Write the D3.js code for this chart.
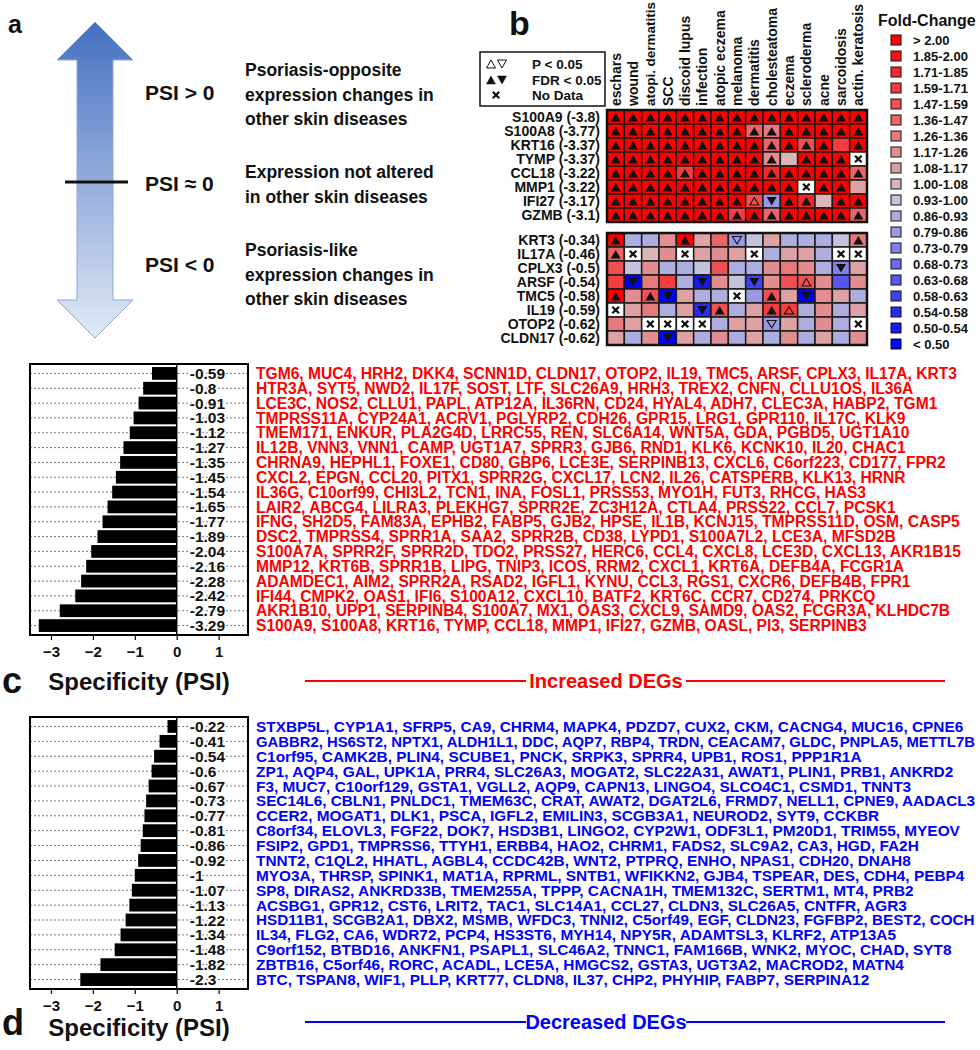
<!DOCTYPE html>
<html><head><meta charset="utf-8">
<script src="https://cdn.jsdelivr.net/npm/d3@7"></script>
<style>
body{margin:0;background:#fff;}
text{font-family:Arial,"Liberation Sans",sans-serif;font-weight:bold;fill:#111;}
</style></head>
<body><svg id="chart" width="980" height="1050"></svg>
<script>
// ---------------- DATA ----------------
const diseases = ["eschars","wound","atopi. dermatitis","SCC","discoid lupus","infection","atopic eczema","melanoma","dermatitis","cholesteatoma","eczema","scleroderma","acne","sarcoidosis","actin. keratosis"];

const upGenes = ["S100A9","S100A8","KRT16","TYMP","CCL18","MMP1","IFI27","GZMB"];
const upPSI = ["-3.8","-3.77","-3.37","-3.37","-3.22","-3.22","-3.17","-3.1"];
const upFC = [
 [2.5,2.5,2.5,2.5,2.5,2.5,2.5,2.5,2.5,2.5,2.5,2.5,2.5,2.5,2.5],
 [2.5,2.5,2.5,2.5,2.5,2.5,2.5,2.5,1.4,1.3,2.5,2.5,2.5,2.5,2.5],
 [2.5,2.5,2.5,2.5,2.5,2.5,2.5,2.5,2.5,1.42,2.5,1.5,2.5,1.65,2.5],
 [2.5,2.5,2.5,2.5,2.5,2.5,2.5,2.5,2.5,1.2,1.05,2.5,2.5,2.5,null],
 [2.5,2.5,2.5,2.5,1.65,2.5,2.5,2.5,2.5,1.75,2.5,2.5,2.5,2.5,1.4],
 [2.5,2.5,2.5,2.5,2.5,2.5,2.5,2.5,2.5,2.5,2.5,null,2.5,2.5,1.12],
 [2.5,2.5,2.5,2.5,2.5,2.5,2.5,2.5,1.5,0.85,2.5,1.75,1.05,2.5,2.5],
 [2.5,2.5,2.5,2.5,2.5,2.5,2.5,1.62,2.5,1.4,2.5,2.5,2.5,2.5,1.4]
];
// F = FDR<0.05 (filled), P = P<0.05 (open), X = no data, . = none
const upMarks = [
 "FFFFFFFFFFFFFFF",
 "FFFFFFFFFFFFFFF",
 "FFFFFFFFFFFFF.F",
 "FFFFFFFFFF.FFFX",
 "FFFFFFFFFFFFFFF",
 "FFFFFFFFFFFXFF.",
 "FFFFFFFFPFFF.FF",
 "FFFFFFFFFFFFFFF"
];

const downGenes = ["KRT3","IL17A","CPLX3","ARSF","TMC5","IL19","OTOP2","CLDN17"];
const downPSI = ["-0.34","-0.46","-0.5","-0.54","-0.58","-0.59","-0.62","-0.62"];
const downFC = [
 [2.5,0.88,0.88,1.2,2.5,1.1,1.45,0.8,0.95,1.1,0.9,0.9,0.9,0.95,1.3],
 [1.4,null,1.06,1.2,null,1.1,1.2,1.1,null,0.9,1.1,1.15,0.9,null,null],
 [1.55,0.95,1.2,0.88,0.9,0.95,1.5,0.9,0.88,1.2,1.3,1.2,0.9,0.75,1.1],
 [1.65,0.45,1.3,1.65,0.88,0.52,1.2,0.95,0.6,1.2,1.5,1.5,1.2,0.68,1.25],
 [2.5,1.2,1.55,0.45,1.1,0.88,0.9,null,0.82,1.5,1.1,0.45,1.2,1.1,0.9],
 [null,1.15,1.3,0.9,1.1,0.55,1.5,0.9,1.1,1.7,1.6,0.9,1.2,0.9,1.1],
 [1.3,1.1,null,null,null,null,0.9,1.1,1.1,0.85,1.1,0.9,1.2,0.9,null],
 [1.1,0.9,1.2,0.45,1.1,0.9,1.2,0.9,1.1,0.9,1.2,0.9,1.1,0.9,1.2]
];
const downMarks = [
 "F...F..P......F",
 "FX..X...X....XX",
 ".............F.",
 ".F...F..F..P...",
 "F.FF...X.F.F...",
 "X....FF..FP....",
 "..XXXX...P....X",
 "...F..........."
];

const fcBreaks = [2.00,1.85,1.71,1.59,1.47,1.36,1.26,1.17,1.08,1.00,0.93,0.86,0.79,0.73,0.68,0.63,0.58,0.54,0.50];
const fcLabels = ["> 2.00","1.85-2.00","1.71-1.85","1.59-1.71","1.47-1.59","1.36-1.47","1.26-1.36","1.17-1.26","1.08-1.17","1.00-1.08","0.93-1.00","0.86-0.93","0.79-0.86","0.73-0.79","0.68-0.73","0.63-0.68","0.58-0.63","0.54-0.58","0.50-0.54","< 0.50"];

const incPSI = [-0.59,-0.8,-0.91,-1.03,-1.12,-1.27,-1.35,-1.45,-1.54,-1.65,-1.77,-1.89,-2.04,-2.16,-2.28,-2.42,-2.79,-3.29];
const incLabels = ["-0.59","-0.8","-0.91","-1.03","-1.12","-1.27","-1.35","-1.45","-1.54","-1.65","-1.77","-1.89","-2.04","-2.16","-2.28","-2.42","-2.79","-3.29"];
const incGenes = [
"TGM6, MUC4, HRH2, DKK4, SCNN1D, CLDN17, OTOP2, IL19, TMC5, ARSF, CPLX3, IL17A, KRT3",
"HTR3A, SYT5, NWD2, IL17F, SOST, LTF, SLC26A9, HRH3, TREX2, CNFN, CLLU1OS, IL36A",
"LCE3C, NOS2, CLLU1, PAPL, ATP12A, IL36RN, CD24, HYAL4, ADH7, CLEC3A, HABP2, TGM1",
"TMPRSS11A, CYP24A1, ACRV1, PGLYRP2, CDH26, GPR15, LRG1, GPR110, IL17C, KLK9",
"TMEM171, ENKUR, PLA2G4D, LRRC55, REN, SLC6A14, WNT5A, GDA, PGBD5, UGT1A10",
"IL12B, VNN3, VNN1, CAMP, UGT1A7, SPRR3, GJB6, RND1, KLK6, KCNK10, IL20, CHAC1",
"CHRNA9, HEPHL1, FOXE1, CD80, GBP6, LCE3E, SERPINB13, CXCL6, C6orf223, CD177, FPR2",
"CXCL2, EPGN, CCL20, PITX1, SPRR2G, CXCL17, LCN2, IL26, CATSPERB, KLK13, HRNR",
"IL36G, C10orf99, CHI3L2, TCN1, INA, FOSL1, PRSS53, MYO1H, FUT3, RHCG, HAS3",
"LAIR2, ABCG4, LILRA3, PLEKHG7, SPRR2E, ZC3H12A, CTLA4, PRSS22, CCL7, PCSK1",
"IFNG, SH2D5, FAM83A, EPHB2, FABP5, GJB2, HPSE, IL1B, KCNJ15, TMPRSS11D, OSM, CASP5",
"DSC2, TMPRSS4, SPRR1A, SAA2, SPRR2B, CD38, LYPD1, S100A7L2, LCE3A, MFSD2B",
"S100A7A, SPRR2F, SPRR2D, TDO2, PRSS27, HERC6, CCL4, CXCL8, LCE3D, CXCL13, AKR1B15",
"MMP12, KRT6B, SPRR1B, LIPG, TNIP3, ICOS, RRM2, CXCL1, KRT6A, DEFB4A, FCGR1A",
"ADAMDEC1, AIM2, SPRR2A, RSAD2, IGFL1, KYNU, CCL3, RGS1, CXCR6, DEFB4B, FPR1",
"IFI44, CMPK2, OAS1, IFI6, S100A12, CXCL10, BATF2, KRT6C, CCR7, CD274, PRKCQ",
"AKR1B10, UPP1, SERPINB4, S100A7, MX1, OAS3, CXCL9, SAMD9, OAS2, FCGR3A, KLHDC7B",
"S100A9, S100A8, KRT16, TYMP, CCL18, MMP1, IFI27, GZMB, OASL, PI3, SERPINB3"
];

const decPSI = [-0.22,-0.41,-0.54,-0.6,-0.67,-0.73,-0.77,-0.81,-0.86,-0.92,-1,-1.07,-1.13,-1.22,-1.34,-1.48,-1.82,-2.3];
const decLabels = ["-0.22","-0.41","-0.54","-0.6","-0.67","-0.73","-0.77","-0.81","-0.86","-0.92","-1","-1.07","-1.13","-1.22","-1.34","-1.48","-1.82","-2.3"];
const decGenes = [
"STXBP5L, CYP1A1, SFRP5, CA9, CHRM4, MAPK4, PDZD7, CUX2, CKM, CACNG4, MUC16, CPNE6",
"GABBR2, HS6ST2, NPTX1, ALDH1L1, DDC, AQP7, RBP4, TRDN, CEACAM7, GLDC, PNPLA5, METTL7B",
"C1orf95, CAMK2B, PLIN4, SCUBE1, PNCK, SRPK3, SPRR4, UPB1, ROS1, PPP1R1A",
"ZP1, AQP4, GAL, UPK1A, PRR4, SLC26A3, MOGAT2, SLC22A31, AWAT1, PLIN1, PRB1, ANKRD2",
"F3, MUC7, C10orf129, GSTA1, VGLL2, AQP9, CAPN13, LINGO4, SLCO4C1, CSMD1, TNNT3",
"SEC14L6, CBLN1, PNLDC1, TMEM63C, CRAT, AWAT2, DGAT2L6, FRMD7, NELL1, CPNE9, AADACL3",
"CCER2, MOGAT1, DLK1, PSCA, IGFL2, EMILIN3, SCGB3A1, NEUROD2, SYT9, CCKBR",
"C8orf34, ELOVL3, FGF22, DOK7, HSD3B1, LINGO2, CYP2W1, ODF3L1, PM20D1, TRIM55, MYEOV",
"FSIP2, GPD1, TMPRSS6, TTYH1, ERBB4, HAO2, CHRM1, FADS2, SLC9A2, CA3, HGD, FA2H",
"TNNT2, C1QL2, HHATL, AGBL4, CCDC42B, WNT2, PTPRQ, ENHO, NPAS1, CDH20, DNAH8",
"MYO3A, THRSP, SPINK1, MAT1A, RPRML, SNTB1, WFIKKN2, GJB4, TSPEAR, DES, CDH4, PEBP4",
"SP8, DIRAS2, ANKRD33B, TMEM255A, TPPP, CACNA1H, TMEM132C, SERTM1, MT4, PRB2",
"ACSBG1, GPR12, CST6, LRIT2, TAC1, SLC14A1, CCL27, CLDN3, SLC26A5, CNTFR, AGR3",
"HSD11B1, SCGB2A1, DBX2, MSMB, WFDC3, TNNI2, C5orf49, EGF, CLDN23, FGFBP2, BEST2, COCH",
"IL34, FLG2, CA6, WDR72, PCP4, HS3ST6, MYH14, NPY5R, ADAMTSL3, KLRF2, ATP13A5",
"C9orf152, BTBD16, ANKFN1, PSAPL1, SLC46A2, TNNC1, FAM166B, WNK2, MYOC, CHAD, SYT8",
"ZBTB16, C5orf46, RORC, ACADL, LCE5A, HMGCS2, GSTA3, UGT3A2, MACROD2, MATN4",
"BTC, TSPAN8, WIF1, PLLP, KRT77, CLDN8, IL37, CHP2, PHYHIP, FABP7, SERPINA12"
];
const psiTicks = [-3,-2,-1,0,1];

// ---------------- DRAWING ----------------
const svg = d3.select("#chart");

// ===== Panel a =====
svg.append("text").attr("x",8).attr("y",33).attr("font-size",25).text("a");
const defs = svg.append("defs");
const grad = defs.append("linearGradient").attr("id","arrowGrad").attr("x1",0).attr("y1",0).attr("x2",0).attr("y2",1);
grad.append("stop").attr("offset","0%").attr("stop-color","#4470c0");
grad.append("stop").attr("offset","50%").attr("stop-color","#93acdb");
grad.append("stop").attr("offset","100%").attr("stop-color","#e2eaf6");
const ax = 95, aTop = 22, aBot = 338, hb1 = 60, hb2 = 300, sw = 18, hw = 38;
const arrowPts = [[ax,aTop],[ax+hw,hb1],[ax+sw,hb1],[ax+sw,hb2],[ax+hw,hb2],[ax,aBot],[ax-hw,hb2],[ax-sw,hb2],[ax-sw,hb1],[ax-hw,hb1]];
svg.append("path").attr("d", d3.line()(arrowPts)+"Z").attr("fill","url(#arrowGrad)").attr("stroke","#8fa8d4").attr("stroke-width",1);
svg.append("line").attr("x1",65).attr("x2",128).attr("y1",182).attr("y2",182).attr("stroke","#111").attr("stroke-width",3);

const psiRows = [
  {lab:"PSI > 0", y:93, lines:["Psoriasis-opposite","expression changes in","other skin diseases"], ly:70},
  {lab:"PSI \u2248 0", y:184, lines:["Expression not altered","in other skin diseases"], ly:172},
  {lab:"PSI < 0", y:265, lines:["Psoriasis-like","expression changes in","other skin diseases"], ly:250}
];
psiRows.forEach(r=>{
  svg.append("text").attr("x",145).attr("y",r.y).attr("dy","0.35em").attr("font-size",21).text(r.lab);
  r.lines.forEach((l,i)=>{
    svg.append("text").attr("x",245).attr("y",r.ly+i*24.5).attr("dy","0.35em").attr("font-size",17.5).text(l);
  });
});

// ===== Panel b =====
svg.append("text").attr("x",509).attr("y",35).attr("font-size",34).text("b");

svg.append("rect").attr("x",480).attr("y",52).attr("width",125).attr("height",54).attr("fill","none").attr("stroke","#111").attr("stroke-width",1.5);
function tri(cx,cy,up,w,h){
  const hw2=w/2, hh=h/2;
  return up ? `M${cx-hw2},${cy+hh}L${cx+hw2},${cy+hh}L${cx},${cy-hh}Z` : `M${cx-hw2},${cy-hh}L${cx+hw2},${cy-hh}L${cx},${cy+hh}Z`;
}
function cross(cx,cy,s){ return `M${cx-s},${cy-s}L${cx+s},${cy+s}M${cx-s},${cy+s}L${cx+s},${cy-s}`; }
const legRows = [{y:64,t:"P < 0.05",k:"P"},{y:80,t:"FDR < 0.05",k:"F"},{y:95,t:"No Data",k:"X"}];
legRows.forEach(r=>{
  if(r.k==="X"){
    svg.append("path").attr("d",cross(496,r.y,3.2)).attr("stroke","#111").attr("stroke-width",2.2);
  } else {
    const filled = r.k==="F";
    svg.append("path").attr("d",tri(491,r.y,true,9,8)).attr("fill",filled?"#111":"none").attr("stroke","#111").attr("stroke-width",filled?0.5:1);
    svg.append("path").attr("d",tri(502,r.y,false,9,8)).attr("fill",filled?"#111":"none").attr("stroke","#111").attr("stroke-width",filled?0.5:1);
  }
  svg.append("text").attr("x",532).attr("y",r.y).attr("dy","0.35em").attr("font-size",13.5).text(r.t);
});

const red = d3.interpolateRgb("#ff0000","#dab6ba");
const blue = d3.interpolateRgb("#c3c3dc","#0000ff");
const palette = fcLabels.map((d,i)=> i<10 ? red(i/9) : blue((i-10)/9));
function binIndex(v){ for(let i=0;i<fcBreaks.length;i++){ if(v>fcBreaks[i]) return i; } return fcBreaks.length; }

const xCol = d3.scaleBand().domain(diseases).range([607,867]);
svg.append("g").selectAll("text").data(diseases).join("text")
  .attr("transform",d=>`translate(${xCol(d)+xCol.bandwidth()/2},106) rotate(-90)`)
  .attr("dy","0.36em").attr("font-size",14).text(d=>d)
  .each(function(){
    const w = this.getComputedTextLength();
    if(w > 104){ d3.select(this).attr("font-size", 14*104/w); }
  });

function drawHeat(genes, psi, fc, marks, y0, y1){
  const yRow = d3.scaleBand().domain(genes).range([y0,y1]);
  const g = svg.append("g");
  genes.forEach((gn,i)=>{
    diseases.forEach((ds,j)=>{
      const v = fc[i][j], m = marks[i][j];
      const x0 = xCol(ds), yy = yRow(gn), w = xCol.bandwidth(), h = yRow.bandwidth();
      const cx = x0+w/2, cy = yy+h/2;
      g.append("rect").attr("x",x0).attr("y",yy).attr("width",w).attr("height",h)
        .attr("fill", (m==="X"||v===null) ? "#ffffff" : palette[binIndex(v)])
        .attr("stroke","#1a1a1a").attr("stroke-width",1.5);
      if(m==="X"){
        g.append("path").attr("d",cross(cx,cy,3.3)).attr("stroke","#111").attr("stroke-width",2.3);
      } else if(m==="F"){
        g.append("path").attr("d",tri(cx,cy+0.3,v>=1,10,8.5)).attr("fill","#111");
      } else if(m==="P"){
        g.append("path").attr("d",tri(cx,cy+0.3,v>=1,9,7.5)).attr("fill","none").attr("stroke","#111").attr("stroke-width",1.1);
      }
    });
  });
  g.append("rect").attr("x",607).attr("y",y0).attr("width",260).attr("height",y1-y0)
    .attr("fill","none").attr("stroke","#111").attr("stroke-width",2.5);
  svg.append("g").selectAll("text").data(genes).join("text")
    .attr("x",600).attr("y",d=>yRow(d)+yRow.bandwidth()/2).attr("dy","0.35em")
    .attr("text-anchor","end").attr("font-size",14)
    .text((d,i)=>`${d} (${psi[i]})`);
}
drawHeat(upGenes, upPSI, upFC, upMarks, 110, 222);
drawHeat(downGenes, downPSI, downFC, downMarks, 233, 345);

svg.append("text").attr("x",878).attr("y",20).attr("dy","0.35em").attr("font-size",16).text("Fold-Change");
const yLeg = d3.scalePoint().domain(fcLabels).range([40,344]);
const lg = svg.append("g");
lg.selectAll("rect").data(fcLabels).join("rect")
  .attr("x",891).attr("y",d=>yLeg(d)-5).attr("width",10).attr("height",10)
  .attr("fill",(d,i)=>palette[i]).attr("stroke","#111").attr("stroke-width",1);
lg.selectAll("text").data(fcLabels).join("text")
  .attr("x",913).attr("y",d=>yLeg(d)).attr("dy","0.35em").attr("font-size",13).text(d=>d);

// ===== Panels c & d =====
function drawBars(o){
  const {values, labels, genes, top, bottom, color, letter, title, capY, geneFont, titleY, letterY} = o;
  const left = 30, right = 248;
  const x = d3.scaleLinear().domain([-3.5,1.7]).range([left,right]);
  const y = d3.scaleBand().domain(d3.range(values.length)).range([top+2,bottom-2]).paddingInner(0.14).paddingOuter(0.07);
  const g = svg.append("g");
  g.selectAll("line.grid").data(values).join("line").attr("class","grid")
    .attr("x1",left).attr("x2",right)
    .attr("y1",(d,i)=>y(i)+y.bandwidth()/2).attr("y2",(d,i)=>y(i)+y.bandwidth()/2)
    .attr("stroke","#777").attr("stroke-width",1).attr("stroke-dasharray","2,2");
  g.selectAll("rect.bar").data(values).join("rect").attr("class","bar")
    .attr("x",d=>x(d)).attr("width",d=>x(0)-x(d))
    .attr("y",(d,i)=>y(i)).attr("height",y.bandwidth()).attr("fill","#000");
  g.append("line").attr("x1",x(0)).attr("x2",x(0)).attr("y1",top).attr("y2",bottom).attr("stroke","#000").attr("stroke-width",1.5);
  g.selectAll("text.val").data(labels).join("text").attr("class","val")
    .attr("x",x(0)+13).attr("y",(d,i)=>y(i)+y.bandwidth()/2).attr("dy","0.36em")
    .attr("font-size",15.5).attr("stroke","#fff").attr("stroke-width",2.5).attr("paint-order","stroke")
    .text(d=>d);
  g.append("rect").attr("x",left).attr("y",top).attr("width",right-left).attr("height",bottom-top)
    .attr("fill","none").attr("stroke","#000").attr("stroke-width",2);
  const axis = d3.axisBottom(x).tickValues(psiTicks).tickSize(5).tickFormat(d3.format("d"));
  const ag = svg.append("g").attr("transform",`translate(0,${bottom})`).call(axis);
  ag.select(".domain").remove();
  ag.selectAll(".tick line").attr("stroke","#000").attr("stroke-width",1.2);
  ag.selectAll(".tick text").attr("font-size",15).attr("font-family","Arial, 'Liberation Sans', sans-serif").attr("font-weight","bold").attr("fill","#111").attr("dy","0.9em");
  svg.append("text").attr("x",139).attr("y",titleY).attr("text-anchor","middle").attr("font-size",24).text("Specificity (PSI)");
  svg.append("text").attr("x",2).attr("y",letterY).attr("font-size",36).text(letter);
  const maxW = 719;
  svg.append("g").selectAll("text").data(genes).join("text")
    .attr("x",256).attr("y",(d,i)=>y(i)+y.bandwidth()/2).attr("dy","0.36em")
    .attr("font-size",geneFont).style("fill",color).text(d=>d)
    .each(function(){
      const w = this.getComputedTextLength();
      if(w > maxW){ d3.select(this).attr("font-size", geneFont*maxW/w); }
    });
  svg.append("text").attr("x",606).attr("y",capY).attr("dy","0.35em").attr("text-anchor","middle")
    .attr("font-size",20).style("fill",color).text(title);
  svg.append("line").attr("x1",305).attr("x2",526).attr("y1",capY).attr("y2",capY).attr("stroke",color).attr("stroke-width",2);
  svg.append("line").attr("x1",686).attr("x2",945).attr("y1",capY).attr("y2",capY).attr("stroke",color).attr("stroke-width",2);
}
drawBars({values:incPSI, labels:incLabels, genes:incGenes, top:364, bottom:635, color:"#ff0000", letter:"c", title:"Increased DEGs", capY:681, geneFont:15.6, titleY:690, letterY:693});
drawBars({values:decPSI, labels:decLabels, genes:decGenes, top:717, bottom:989, color:"#0000ff", letter:"d", title:"Decreased DEGs", capY:1022, geneFont:15.4, titleY:1036, letterY:1035});
</script></body></html>
